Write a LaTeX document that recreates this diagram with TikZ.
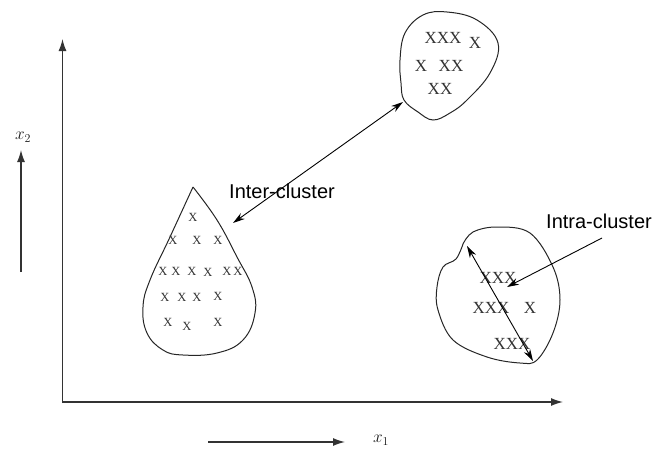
\documentclass[tikz,border=0pt]{standalone}
\usepackage{fontspec}
\setmainfont{Liberation Serif}
\setsansfont{Liberation Sans}
\usetikzlibrary{arrows.meta}
\begin{document}
\begin{tikzpicture}[x=1pt,y=-1pt,
  axisline/.style={line width=1.3pt,draw=black!80,-{Latex[length=12pt,width=8pt]}},
  blob/.style={line width=1pt,draw=black!85},
  dblarrow/.style={line width=0.9pt,{Stealth[length=12pt,width=7pt]}-{Stealth[length=12pt,width=7pt]}},
  onearrow/.style={line width=0.9pt,-{Stealth[length=12pt,width=7pt]}},
  lbl/.style={font=\sffamily\fontsize{20}{22}\selectfont,inner sep=0pt},
  bigx/.style={font=\fontsize{17}{18}\selectfont,inner sep=0pt,text=black!80},
  smallx/.style={font=\fontsize{12.5}{13}\selectfont,inner sep=0pt,text=black!80},
  axlbl/.style={font=\fontsize{18}{19}\selectfont,inner sep=0pt,text=black!90}]
\useasboundingbox (0,0) rectangle (656,450);
% axes
\coordinate (ytop) at (62.5,39);
\coordinate (xend) at (563,402);
\draw[axisline] (62.5,403) -- (ytop);
\draw[axisline] (62,402) -- (xend);
% direction arrows
\coordinate (x2a) at (21,272);
\coordinate (x2b) at (21,150);
\draw[axisline] (x2a) -- (x2b);
\node[axlbl] (x2lbl) at (23,137) {$x_2$};
\coordinate (x1a) at (208,442);
\coordinate (x1b) at (345,442);
\draw[axisline] (x1a) -- (x1b);
\node[axlbl] (x1lbl) at (381,440) {$x_1$};
% top cluster
\draw[blob] plot[smooth cycle,tension=0.65] coordinates {(405,33) (423,15) (447,12) (477,20) (498,43) (490,73) (467,100) (450,113) (433,120) (418,112) (404,100) (401,83) (400,60)};
\node[bigx] (t1) at (443,38) {XXX};
\node[bigx] (t2) at (475,43) {X};
\node[bigx] (t3) at (421,66) {X};
\node[bigx] (t4) at (451,66) {XX};
\node[bigx] (t5) at (440,89) {XX};
% drop cluster
\draw[blob] plot[smooth,tension=0.7] coordinates {(193,187) (170,237) (150,280) (143,307) (147,333) (163,350) (183,355) (217,353) (243,340) (255,313) (252,287) (237,257) (217,220) (193,187)};
\foreach \px/\py [count=\i] in {193/217, 173/240,197/240,218/240,
  163/271,176/271,192/271,208/272,227/271,238/271,
  165/297,182/297,197/297,218/296,
  168/322,187/326,218/322}
  \node[smallx] (d\i) at (\px,\py) {X};
% right cluster
\draw[blob] plot[smooth,tension=0.6] coordinates {(463,244) (473,232) (497,227) (530,233) (553,267) (560,300) (553,333) (537,360) (520,363) (487,357) (453,340) (438,310) (437,287) (443,267) (456,259) (463,244)};
\node[bigx] (r1) at (498,278) {XXX};
\node[bigx] (r2) at (491,308) {XXX};
\node[bigx] (r3) at (530,308) {X};
\node[bigx] (r4) at (512,344) {XXX};
% inter-cluster
\coordinate (ia) at (403,102);
\coordinate (ib) at (233,223);
\draw[dblarrow] (ia) -- (ib);
\node[lbl,anchor=base west] (inter) at (229,198) {Inter-cluster};
% intra-cluster
\coordinate (ra) at (467,246);
\coordinate (rb) at (533,361);
\draw[dblarrow] (ra) -- (rb);
\coordinate (sa) at (602,238);
\coordinate (sb) at (507,287);
\draw[onearrow] (sa) -- (sb);
\node[lbl,anchor=base west] (intra) at (546,228) {Intra-cluster};
\end{tikzpicture}
\end{document}
